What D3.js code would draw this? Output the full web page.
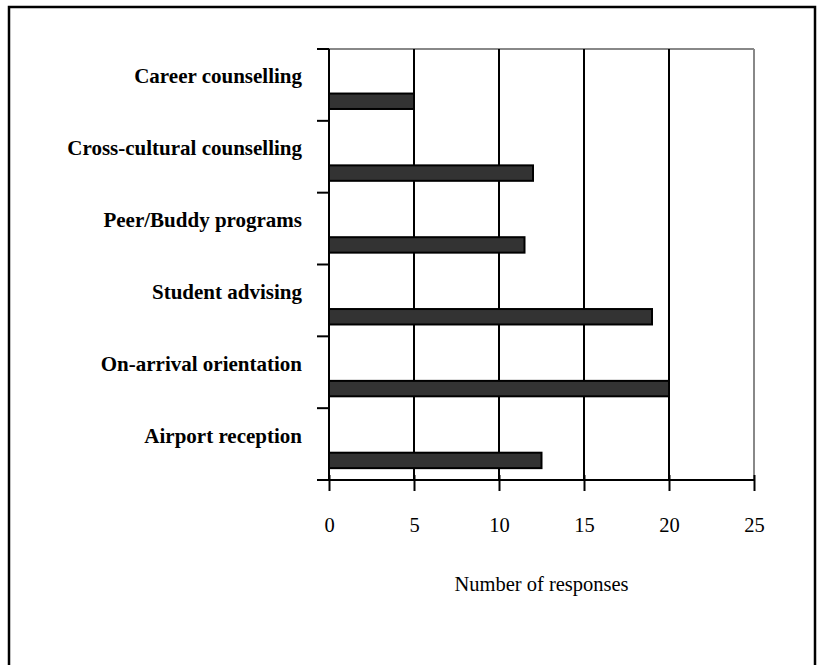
<!DOCTYPE html>
<meta charset="utf-8">
<head>
<style>
  body { margin: 0; background: #fff; }
  svg { display: block; font-family: "Liberation Serif", "Times New Roman", serif; }
</style>
</head>
<body>
<div id="chart"></div>
<script src="https://d3js.org/d3.v7.min.js"></script>
<script>
  // support services and number of responses (top to bottom)
  const services = ["Career counselling", "Cross-cultural counselling", "Peer/Buddy programs",
                    "Student advising", "On-arrival orientation", "Airport reception"];
  const responses = [5, 12, 11.5, 19, 20, 12.5];
  const xTicks = [0, 5, 10, 15, 20, 25];

  const W = 821, H = 665;
  const margin = {top: 49, right: 67, bottom: 185, left: 329};
  const width = W - margin.left - margin.right,
        height = H - margin.top - margin.bottom;

  const svg = d3.select("#chart").append("svg")
      .attr("width", W)
      .attr("height", H);

  // outer frame
  svg.append("rect")
      .attr("x", 9).attr("y", 7)
      .attr("width", 806).attr("height", 720)
      .attr("fill", "none")
      .attr("stroke", "#000")
      .attr("stroke-width", 2.5);

  const g = svg.append("g")
      .attr("transform", `translate(${margin.left},${margin.top})`);

  const x = d3.scaleLinear().domain([0, 25]).range([0, width]);
  const y = d3.scaleBand().domain(services).range([0, height]).padding(0);

  // plot border (grey top and right)
  g.append("line").attr("x1", 0).attr("x2", width).attr("y1", 0).attr("y2", 0)
      .attr("stroke", "#888").attr("stroke-width", 2);
  g.append("line").attr("x1", width).attr("x2", width).attr("y1", 0).attr("y2", height)
      .attr("stroke", "#888").attr("stroke-width", 2);

  // vertical gridlines
  g.selectAll(".grid")
    .data(xTicks.filter(d => d > 0 && d < 25))
    .join("line")
      .attr("class", "grid")
      .attr("x1", d => x(d)).attr("x2", d => x(d))
      .attr("y1", 0).attr("y2", height)
      .attr("stroke", "#000").attr("stroke-width", 2);

  // bars
  const bw = y.bandwidth();
  g.selectAll(".bar")
    .data(services)
    .join("rect")
      .attr("class", "bar")
      .attr("x", x(0))
      .attr("y", d => y(d) + bw * 0.62)
      .attr("width", (d, i) => x(responses[i]) - x(0))
      .attr("height", bw * 0.215)
      .attr("fill", "#333")
      .attr("stroke", "#000")
      .attr("stroke-width", 2);

  // x axis
  const xAxis = g.append("g")
      .attr("transform", `translate(0,${height})`)
      .call(d3.axisBottom(x).tickValues(xTicks).tickSize(11).tickPadding(26).tickSizeOuter(0));
  xAxis.select(".domain").remove();
  xAxis.append("line").attr("x1", -12).attr("x2", width).attr("y1", 0).attr("y2", 0)
      .attr("stroke", "#000").attr("stroke-width", 2);
  xAxis.selectAll(".tick line").attr("y1", -5).attr("stroke-width", 2);
  xAxis.selectAll(".tick text")
      .attr("fill", "#000")
      .style("font-size", "20.5px")
      .style("font-family", "'Liberation Serif', serif");

  // y axis: ticks at band boundaries
  g.append("line").attr("x1", 0).attr("x2", 0).attr("y1", 0).attr("y2", height)
      .attr("stroke", "#000").attr("stroke-width", 2);
  g.selectAll(".ytick")
    .data(services.map(d => y(d)))
    .join("line")
      .attr("class", "ytick")
      .attr("x1", -12).attr("x2", 0)
      .attr("y1", d => d).attr("y2", d => d)
      .attr("stroke", "#000").attr("stroke-width", 2);

  // category labels
  g.selectAll(".label")
    .data(services)
    .join("text")
      .attr("class", "label")
      .attr("x", -27)
      .attr("y", d => y(d) + 27)
      .attr("dy", "0.35em")
      .attr("text-anchor", "end")
      .style("font-size", "21px")
      .style("font-weight", "bold")
      .text(d => d);

  // axis title
  g.append("text")
      .attr("x", width / 2)
      .attr("y", height + 111)
      .attr("text-anchor", "middle")
      .style("font-size", "20.5px")
      .text("Number of responses");
</script>
</body>
